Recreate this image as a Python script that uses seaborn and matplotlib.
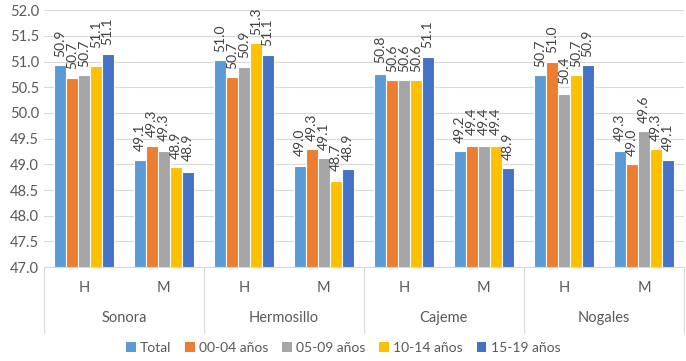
import matplotlib
matplotlib.use('Agg')
import matplotlib.pyplot as plt
import matplotlib.transforms as mtransforms
from matplotlib.patches import Patch
import numpy as np
import pandas as pd
import seaborn as sns

sns.set_style("white")
plt.rcParams['font.family'] = ['Lato', 'DejaVu Sans']

municipios = ["Sonora", "Hermosillo", "Cajeme", "Nogales"]
sexos = ["H", "M"]
series = ["Total", "00-04 años", "05-09 años", "10-14 años", "15-19 años"]
colores = ["#5B9BD5", "#ED7D31", "#A5A5A5", "#FFC000", "#4472C4"]

# bar heights (order: Sonora H, Sonora M, Hermosillo H, ...)
total  = [50.93, 49.09, 51.03, 48.97, 50.76, 49.25, 50.74, 49.25]
e00_04 = [50.67, 49.36, 50.70, 49.29, 50.64, 49.36, 50.99, 49.00]
e05_09 = [50.74, 49.26, 50.90, 49.12, 50.64, 49.36, 50.36, 49.65]
e10_14 = [50.92, 48.94, 51.36, 48.67, 50.64, 49.36, 50.73, 49.29]
e15_19 = [51.15, 48.86, 51.13, 48.90, 51.09, 48.93, 50.93, 49.09]

# data labels as printed on the chart
lab_total  = ["50.9", "49.1", "51.0", "49.0", "50.8", "49.2", "50.7", "49.3"]
lab_00_04  = ["50.7", "49.3", "50.7", "49.3", "50.6", "49.4", "51.0", "49.0"]
lab_05_09  = ["50.7", "49.3", "50.9", "49.1", "50.6", "49.4", "50.4", "49.6"]
lab_10_14  = ["51.1", "48.9", "51.3", "48.7", "50.6", "49.4", "50.7", "49.3"]
lab_15_19  = ["51.1", "48.9", "51.1", "48.9", "51.1", "48.9", "50.9", "49.1"]

valores = [total, e00_04, e05_09, e10_14, e15_19]
etiquetas = [lab_total, lab_00_04, lab_05_09, lab_10_14, lab_15_19]

cats = [f"{m} {s}" for m in municipios for s in sexos]
rows = []
for serie, vals in zip(series, valores):
    for c, v in zip(cats, vals):
        rows.append({"cat": c, "serie": serie, "valor": v})
df = pd.DataFrame(rows)

fig = plt.figure(figsize=(6.86, 3.61), dpi=100)
ax = fig.add_axes([0.064, 0.26, 0.933, 0.712])

sns.barplot(data=df, x="cat", y="valor", hue="serie", order=cats, hue_order=series,
            palette=colores, width=0.74, edgecolor="white", linewidth=0.8,
            saturation=1, ax=ax, legend=False)

ax.set_ylim(47, 52)
ax.set_xlim(-0.5, 7.5)
ax.set_yticks(np.arange(47, 52.01, 0.5))
ax.set_yticklabels([f"{t:.1f}" for t in np.arange(47, 52.01, 0.5)], fontsize=10.5, color="#595959")
ax.yaxis.grid(True, color="#D9D9D9", linewidth=0.8)
ax.set_axisbelow(True)
for s in ["left", "right", "top"]:
    ax.spines[s].set_visible(False)
ax.spines["bottom"].set_color("#D9D9D9")
ax.tick_params(axis="both", length=0)
ax.tick_params(axis="x", pad=10)
ax.set_xticks(range(len(cats)))
ax.set_xticklabels(sexos * len(municipios), fontsize=10.5, color="#595959")
ax.set_xlabel("")
ax.set_ylabel("")

# data labels, rotated
for cont, labs in zip(ax.containers, etiquetas):
    for bar, lab in zip(cont, labs):
        x = bar.get_x() + bar.get_width() / 2
        y = max(bar.get_height(), float(lab))
        ax.annotate(lab, (x, y), xytext=(0, 6), textcoords="offset points",
                    rotation=90, ha="center", va="bottom", fontsize=10,
                    color="#404040", annotation_clip=False)

# second level of categories
trans = mtransforms.blended_transform_factory(ax.transData, ax.transAxes)
for i, m in enumerate(municipios):
    ax.text(2 * i + 0.5, -0.198, m, transform=trans, ha="center", va="center",
            fontsize=10.5, color="#595959")
for xb in np.arange(-0.5, 8, 2):
    ax.plot([xb, xb], [0, -0.255], transform=trans, color="#D9D9D9",
            linewidth=0.8, clip_on=False)

handles = [Patch(facecolor=c, edgecolor="none") for c in colores]
fig.legend(handles, series, loc="center", bbox_to_anchor=(0.5, 0.036), ncol=5,
           frameon=False, fontsize=10, handlelength=0.7, handleheight=0.7,
           handletextpad=0.3, columnspacing=1.0, labelcolor="#595959")

fig.savefig("out.png", dpi=100)
